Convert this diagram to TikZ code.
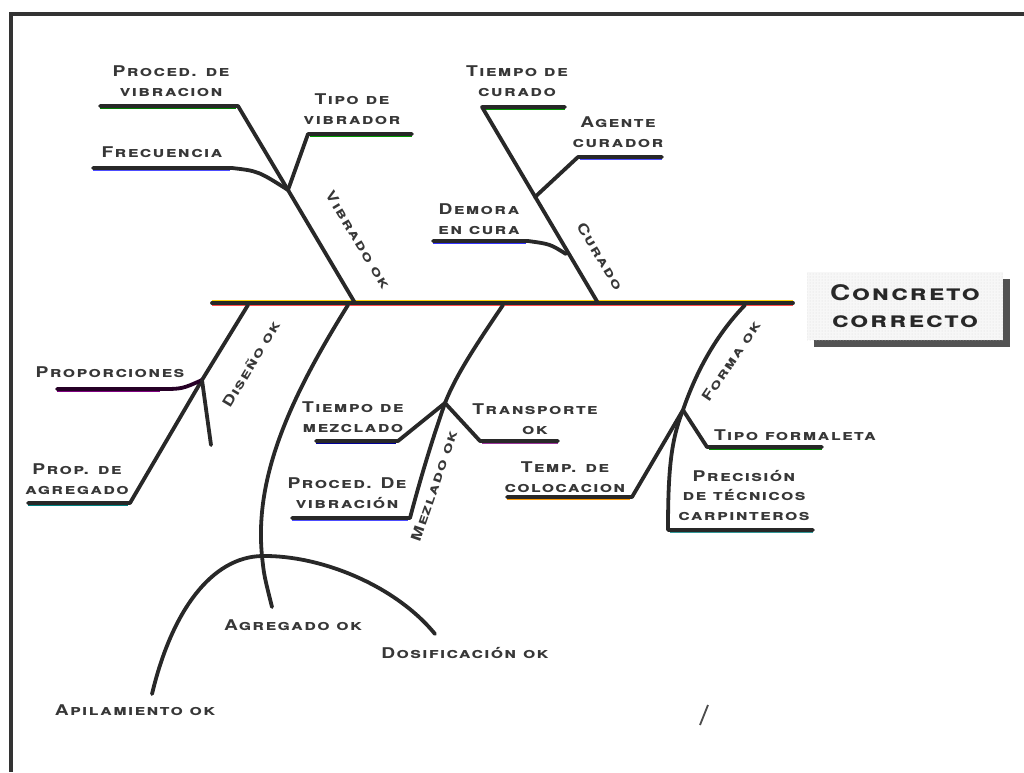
\documentclass[tikz,border=0pt]{standalone}
\usepackage{fontspec}
\usetikzlibrary{shadows,patterns}
\newfontfamily\labfont[Letters=SmallCaps,LetterSpace=9,FakeStretch=1.3]{TeX Gyre Heros}
\definecolor{ink}{RGB}{40,40,40}
\definecolor{txt}{RGB}{55,55,55}
\tikzset{
  br/.style={line width=3.8pt, draw=ink, line join=round, line cap=round},
  tint/.style={line width=1.1pt},
  lbl/.style={font=\labfont\bfseries\fontsize{14.8}{19.5}\selectfont, text=txt, align=center, inner sep=0pt},
  rlbl/.style={lbl, font=\labfont\bfseries\fontsize{14}{18}\selectfont},
  mainbox/.style={draw=none, fill=gray!6, minimum width=196pt, minimum height=68pt,
    drop shadow={shadow xshift=7pt, shadow yshift=-7pt, fill=black!75, opacity=0.9},
    postaction={pattern=dots, pattern color=gray!30},
    font=\labfont\bfseries\fontsize{21.5}{27}\selectfont, text=ink, align=center}
}
\begin{document}
\begin{tikzpicture}[x=1pt,y=-1pt]
\useasboundingbox (0,0) rectangle (1024,772);
% frame
\draw[line width=4pt, draw=black!80] (1024,14) -- (11,14) -- (11,772);
% head box
\node[mainbox] (head) at (905,306) {Concreto\\correcto};
% spine
\coordinate (sL) at (212,303);
\coordinate (sR) at (793,303);
\draw[tint, draw=yellow!70!orange] (212,300.5) -- (793,300.5);
\draw[tint, draw=red!70] (212,305.8) -- (793,305.8);
\draw[br] (sL) -- (sR);

% ---- Vibrado OK
\coordinate (v0) at (355,303);
\coordinate (vj) at (288,190);
\coordinate (v1) at (238,106);
\coordinate (v1e) at (100,106);
\coordinate (v2) at (308,134);
\coordinate (v2e) at (412,134);
\coordinate (v3) at (232,168);
\coordinate (v3e) at (93,168);
\draw[tint, draw=green!50!black] (100,108.8) -- (236,108.8);
\draw[tint, draw=green!60!black] (310,136.8) -- (412,136.8);
\draw[tint, draw=blue!70] (93,170.8) -- (230,170.8);
\draw[br] (v1e) -- (v1) -- (vj) -- (v0);
\draw[br] (vj) -- (v2) -- (v2e);
\draw[br] (v3e) -- (v3) .. controls (258,171) .. (vj);
\node[lbl] (lv1) at (171,81) {Proced. de\\vibracion};
\node[lbl] (lv2) at (352,109) {Tipo de\\vibrador};
\node[lbl] (lv3) at (162,152) {Frecuencia};
\node[rlbl, rotate=-59] (lv) at (358,240) {Vibrado ok};

% ---- Curado
\coordinate (c0) at (598,303);
\coordinate (c1) at (482,107);
\coordinate (c1e) at (565,107);
\coordinate (cj) at (535,197);
\coordinate (c2) at (578,157);
\coordinate (c2e) at (662,157);
\coordinate (cj3) at (566,254);
\coordinate (c3) at (528,241);
\coordinate (c3e) at (433,241);
\draw[tint, draw=green!60!black] (484,109.8) -- (565,109.8);
\draw[tint, draw=blue!70] (580,159.8) -- (662,159.8);
\draw[tint, draw=blue!80] (433,243.8) -- (526,243.8);
\draw[br] (c1e) -- (c1) -- (c0);
\draw[br] (cj) -- (c2) -- (c2e);
\draw[br] (c3e) -- (c3) .. controls (550,244) .. (cj3);
\node[lbl] (lc1) at (517,81) {Tiempo de\\curado};
\node[lbl] (lc2) at (618,132) {Agente\\curador};
\node[lbl] (lc3) at (479,219) {Demora\\en cura};
\node[rlbl, rotate=-59] (lc) at (600,256) {Curado};

% ---- Diseno OK
\coordinate (d0) at (248,305);
\coordinate (dj) at (202,380);
\coordinate (d1) at (130,503);
\coordinate (d1e) at (28,503);
\coordinate (d2) at (160,389);
\coordinate (d2e) at (57,389);
\coordinate (d3) at (211,445);
\draw[tint, draw=teal] (28,505.8) -- (128,505.8);
\draw[tint, draw=violet] (57,391.8) -- (160,391.8);
\draw[br] (d0) -- (dj) -- (d1) -- (d1e);
\draw[br, draw=black!70!violet] (d2e) -- (d2) .. controls (182,389) .. (dj);
\draw[br] (dj) -- (d3);
\node[lbl] (ld2) at (110,372) {Proporciones};
\node[lbl] (ld1) at (77,479) {Prop. de\\agregado};
\node[rlbl, rotate=59] (ld) at (251,364) {Diseño ok};

% ---- Agregado OK
\coordinate (a0) at (348,305);
\coordinate (aj) at (262,556);
\coordinate (a1) at (272,607);
\coordinate (aL) at (152,694);
\coordinate (aR) at (435,634);
\draw[br] (a0) .. controls (292,395) and (254,475) .. (aj) .. controls (264,575) .. (a1);
\draw[br] (aL) .. controls (172,610) and (212,557) .. (aj) .. controls (320,555) and (395,585) .. (aR);
\node[lbl] (la) at (293,625) {Agregado ok};
\node[lbl] (lad) at (465,653) {Dosificación ok};
\node[lbl] (lap) at (135,710) {Apilamiento ok};

% ---- Mezclado OK
\coordinate (m0) at (503,305);
\coordinate (mj) at (445,403);
\coordinate (m1) at (398,441);
\coordinate (m1e) at (316,441);
\coordinate (m2) at (480,441);
\coordinate (m2e) at (558,441);
\coordinate (m3) at (410,518);
\coordinate (m3e) at (292,518);
\draw[tint, draw=blue!60!black] (316,443.8) -- (396,443.8);
\draw[tint, draw=violet!80] (482,443.8) -- (558,443.8);
\draw[tint, draw=blue!70] (292,520.8) -- (408,520.8);
\draw[br] (m0) .. controls (476,345) and (456,375) .. (mj);
\draw[br] (mj) -- (m1) -- (m1e);
\draw[br] (mj) -- (m2) -- (m2e);
\draw[br] (mj) .. controls (432,440) and (420,480) .. (m3) -- (m3e);
\node[lbl] (lm1) at (353,417) {Tiempo de\\mezclado};
\node[lbl] (lm2) at (535,419) {Transporte\\ok};
\node[lbl] (lm3) at (347,493) {Proced. De\\vibración};
\node[rlbl, rotate=71] (lm) at (434,486) {Mezlado ok};

% ---- Forma OK
\coordinate (f0) at (745,305);
\coordinate (fj) at (683,410);
\coordinate (f1) at (632,497);
\coordinate (f1e) at (507,497);
\coordinate (f2) at (707,447);
\coordinate (f2e) at (822,447);
\coordinate (f3) at (668,530);
\coordinate (f3e) at (813,530);
\draw[tint, draw=orange!80!yellow] (507,499.8) -- (630,499.8);
\draw[tint, draw=green!55!black] (709,449.8) -- (822,449.8);
\draw[tint, draw=teal!80] (670,532.8) -- (813,532.8);
\draw[br] (f0) .. controls (716,335) and (696,372) .. (fj);
\draw[br] (fj) -- (f1) -- (f1e);
\draw[br] (fj) -- (f2) -- (f2e);
\draw[br] (fj) .. controls (671,440) and (668,470) .. (f3) -- (f3e);
\node[lbl] (lf1) at (565,477) {Temp. de\\colocacion};
\node[lbl] (lf2) at (795,435) {Tipo formaleta};
\node[lbl] (lf3) at (744,495) {Precisión\\de técnicos\\carpinteros};
\node[rlbl, rotate=56] (lf) at (731,361) {Forma ok};

% stray mark
\coordinate (s1) at (700,725);
\coordinate (s2) at (708,705);
\draw[line width=1.8pt, draw=black!70] (s1) -- (s2);
\end{tikzpicture}
\end{document}
